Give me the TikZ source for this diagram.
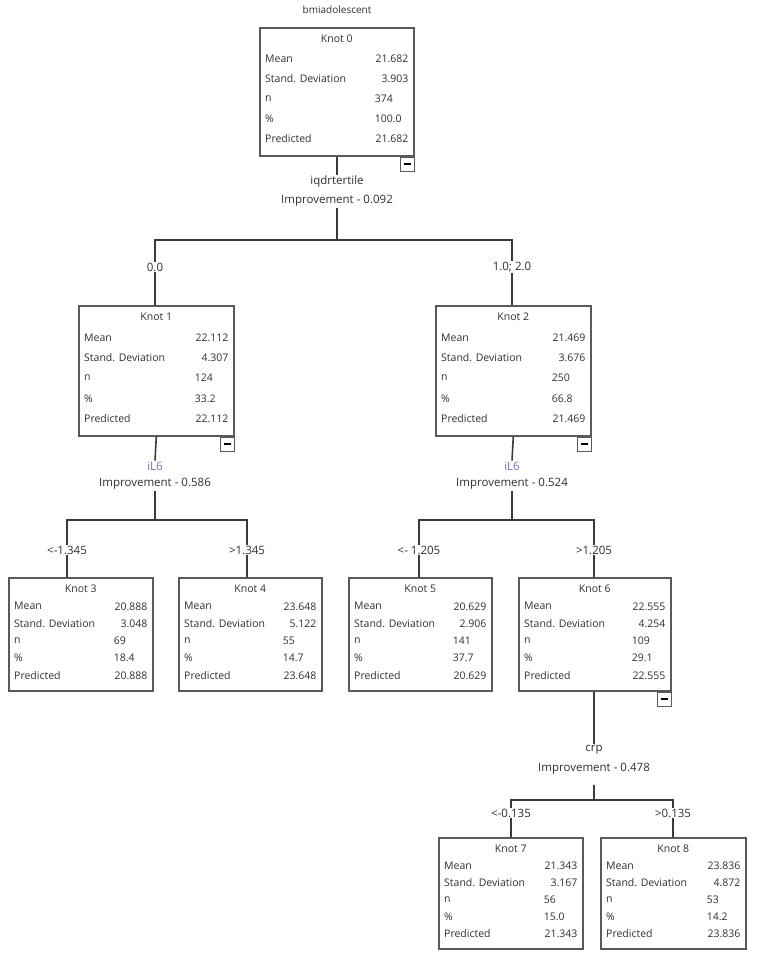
\documentclass[tikz,border=0pt]{standalone}
\usepackage{fontspec}
\setmainfont{Open Sans}
\usetikzlibrary{positioning,calc}
\definecolor{linegray}{HTML}{3A3A3A}
\definecolor{boxgray}{HTML}{5A5A5A}
\definecolor{txtgray}{HTML}{303030}
\definecolor{ilcolor}{HTML}{7A6BC8}
\tikzset{
  box/.style={draw=boxgray, line width=1.6pt, anchor=north west, inner sep=0pt},
  cell/.style={font=\fontsize{10.5}{11}\selectfont, text=txtgray, inner sep=0pt},
  lbl/.style={font=\fontsize{11.5}{12}\selectfont, text=txtgray, inner sep=1pt},
  minus/.style={draw=boxgray, line width=1pt, minimum width=14pt, minimum height=14pt, anchor=north east, inner sep=0pt},
  conn/.style={draw=linegray, line width=1.6pt},
}
% name, top-left, width, height, title, values
\newcommand{\knotbox}[6]{%
  \node[box, minimum width=#3pt, minimum height=#4pt] (#1) at (#2) {};
  \pgfmathsetmacro{\rowh}{(#4-18)/5.5}
  \node[cell] (#1-t) at ($(#1.north)+(0,12)$) {#5};
  \foreach \lab/\val/\al [count=\i] in {#6} {
    \node[cell, anchor=west] (#1-l\i) at ($(#1.north west)+(6,{12+\i*\rowh})$) {\lab};
    \ifnum\al=1
      \node[cell, anchor=east] (#1-v\i) at ($(#1.north east)+(-6,{12+\i*\rowh})$) {\val};
    \else
      \node[cell, anchor=west] (#1-v\i) at ($(#1.north east)+(-40,{12+\i*\rowh})$) {\val};
    \fi
  }
}
\begin{document}
\begin{tikzpicture}[x=1pt,y=-1pt]
  \useasboundingbox (0,0) rectangle (756,965);

  \node[lbl, font=\fontsize{10}{11}\selectfont] (target) at (337,10) {bmiadolescent};

  % knots
  \knotbox{k0}{259,27}{154}{128}{Knot 0}{Mean/21.682/1, Stand. Deviation/3.903/1, n/374/0, \%/100.0/0, Predicted/21.682/1}
  \knotbox{k1}{78,305}{155}{130}{Knot 1}{Mean/22.112/1, Stand. Deviation/4.307/1, n/124/0, \%/33.2/0, Predicted/22.112/1}
  \knotbox{k2}{435,305}{155}{130}{Knot 2}{Mean/21.469/1, Stand. Deviation/3.676/1, n/250/0, \%/66.8/0, Predicted/21.469/1}
  \knotbox{k3}{8,577}{144}{113}{Knot 3}{Mean/20.888/1, Stand. Deviation/3.048/1, n/69/0, \%/18.4/0, Predicted/20.888/1}
  \knotbox{k4}{178,577}{143}{113}{Knot 4}{Mean/23.648/1, Stand. Deviation/5.122/1, n/55/0, \%/14.7/0, Predicted/23.648/1}
  \knotbox{k5}{348,577}{143}{113}{Knot 5}{Mean/20.629/1, Stand. Deviation/2.906/1, n/141/0, \%/37.7/0, Predicted/20.629/1}
  \knotbox{k6}{518,577}{152}{113}{Knot 6}{Mean/22.555/1, Stand. Deviation/4.254/1, n/109/0, \%/29.1/0, Predicted/22.555/1}
  \knotbox{k7}{438,837}{144}{111}{Knot 7}{Mean/21.343/1, Stand. Deviation/3.167/1, n/56/0, \%/15.0/0, Predicted/21.343/1}
  \knotbox{k8}{600,837}{145}{111}{Knot 8}{Mean/23.836/1, Stand. Deviation/4.872/1, n/53/0, \%/14.2/0, Predicted/23.836/1}

  % collapse buttons
  \node[minus] (m0) at (k0.south east) {\rule{7pt}{1.4pt}};
  \node[minus] (m1) at (k1.south east) {\rule{7pt}{1.4pt}};
  \node[minus] (m2) at (k2.south east) {\rule{7pt}{1.4pt}};
  \node[minus] (m6) at (k6.south east) {\rule{7pt}{1.4pt}};

  % split labels
  \node[lbl] (s0a) at (337,182) {iqdrtertile};
  \node[lbl] (s0b) at (337,201) {Improvement - 0.092};
  \node[lbl, text=ilcolor] (s1a) at (155,466) {iL6};
  \node[lbl] (s1b) at (155,484) {Improvement - 0.586};
  \node[lbl, text=ilcolor] (s2a) at (512,466) {iL6};
  \node[lbl] (s2b) at (512,484) {Improvement - 0.524};
  \node[lbl] (s6a) at (594,750) {crp};
  \node[lbl] (s6b) at (594,769) {Improvement - 0.478};

  % branch labels
  \node[lbl] (b1) at (155,267) {0.0};
  \node[lbl] (b2) at (512,267) {1.0; 2.0};
  \node[lbl] (b3) at (67,550) {<-1.345};
  \node[lbl] (b4) at (247,550) {>1.345};
  \node[lbl] (b5) at (419,550) {<- 1.205};
  \node[lbl] (b6) at (594,550) {>1.205};
  \node[lbl] (b7) at (511,813) {<-0.135};
  \node[lbl] (b8) at (673,813) {>0.135};

  % junctions
  \coordinate (j0) at (337,240);
  \coordinate (j1) at (155,520);
  \coordinate (j2) at (512,520);
  \coordinate (j6) at (594,800);

  % connectors
  \draw[conn] (k0.south -| j0) -- (s0a.north);
  \draw[conn] (s0b.south) -- (j0);
  \draw[conn] (b1.north) |- (j0) -| (b2.north);
  \draw[conn] (b1.south) -- (b1.south |- k1.north);
  \draw[conn] (b2.south) -- (b2.south |- k2.north);

  \draw[conn] (k1.south) -- (s1a.north);
  \draw[conn] (s1b.south) -- (j1);
  \draw[conn] (b3.north) |- (j1) -| (b4.north);
  \draw[conn] (b3.south) -- (b3.south |- k3.north);
  \draw[conn] (b4.south) -- (b4.south |- k4.north);

  \draw[conn] (k2.south) -- (s2a.north);
  \draw[conn] (s2b.south) -- (j2);
  \draw[conn] (b5.north) |- (j2) -| (b6.north);
  \draw[conn] (b5.south) -- (b5.south |- k5.north);
  \draw[conn] (b6.south) -- (b6.south |- k6.north);

  \draw[conn] (k6.south -| j6) -- (s6a.north);
  \draw[conn] ($(s6b.south)+(0,9)$) -- (j6);
  \draw[conn] (b7.north) |- (j6) -| (b8.north);
  \draw[conn] (b7.south) -- (b7.south |- k7.north);
  \draw[conn] (b8.south) -- (b8.south |- k8.north);
\end{tikzpicture}
\end{document}
